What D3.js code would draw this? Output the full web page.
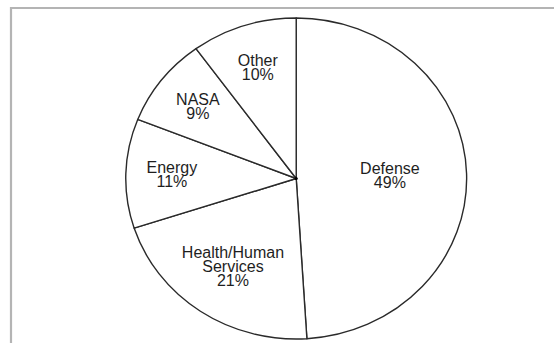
<!DOCTYPE html>
<html>
<head>
<meta charset="utf-8">
<script src="https://cdn.jsdelivr.net/npm/d3@7"></script>
<style>
  html, body { margin: 0; padding: 0; background: #fff; }
  svg { display: block; }
  text { font-family: "Liberation Sans", Arial, sans-serif; }
</style>
</head>
<body>
<script>
const categories = ["Defense", "Health/Human Services", "Energy", "NASA", "Other"];
const labelLines = [["Defense"], ["Health/Human", "Services"], ["Energy"], ["NASA"], ["Other"]];
const values = [49, 21, 11, 9, 10];

const W = 554, H = 343;
const cx = 296.2, cy = 178.5, r = 160.5, sx = 1.062;

const svg = d3.select("body").append("svg").attr("width", W).attr("height", H);

// frame
svg.append("path")
  .attr("d", `M11,${H + 5} V8 H${W + 5}`)
  .attr("fill", "none")
  .attr("stroke", "#b4b4b4")
  .attr("stroke-width", 2.2);

const pie = d3.pie().sort(null).value(d => d)(values);
const arc = d3.arc().innerRadius(0).outerRadius(r);

const g = svg.append("g").attr("transform", `translate(${cx},${cy}) scale(${sx},1)`);
g.selectAll("path.slice").data(pie).enter().append("path")
  .attr("class", "slice")
  .attr("d", arc)
  .attr("fill", "#fff")
  .attr("stroke", "#2a2a2a")
  .attr("stroke-width", 1.4)
  .attr("vector-effect", "non-scaling-stroke")
  .attr("stroke-linejoin", "round");

g.append("ellipse").attr("cx", 0).attr("cy", 0).attr("rx", 1.6 / sx).attr("ry", 1.6).attr("fill", "#000");

const labels = svg.append("g").attr("transform", `translate(${cx},${cy})`);
pie.forEach((d, i) => {
  const frac = d.value / d3.sum(values);
  const k = frac > 0.4 ? 0.55 : frac > 0.15 ? 0.66 : 0.73;
  const la = d3.arc().innerRadius(r * k).outerRadius(r * k);
  const [px, py] = la.centroid(d);
  const lines = labelLines[i].concat([Math.round(frac * 100) + "%"]);
  const n = lines.length;
  const lh = 14;
  const t = labels.append("text")
    .attr("text-anchor", "middle")
    .attr("font-size", 16)
    .attr("fill", "#1e1e1e");
  lines.forEach((ln, j) => {
    t.append("tspan")
      .attr("x", px * sx)
      .attr("y", py - (n - 1) * lh / 2 + j * lh + 5.5)
      .text(ln);
  });
});
</script>
</body>
</html>
